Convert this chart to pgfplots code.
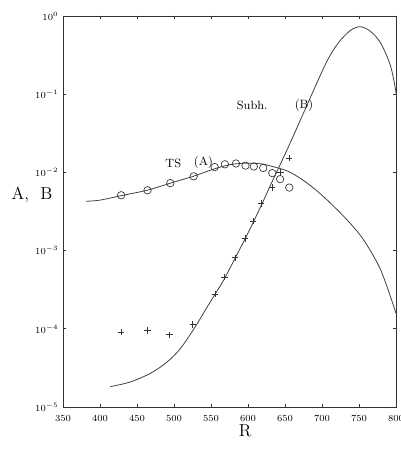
\documentclass[border=0pt]{standalone}
\usepackage{pgfplots}
\pgfplotsset{compat=1.18}
\begin{document}
\begin{tikzpicture}
\begin{axis}[
  scale only axis, width=249.75pt, height=293.25pt,
  xmin=350, xmax=800, ymode=log, ymin=1e-5, ymax=1,
  xtick={350,400,...,800},
  ytick={1e-5,1e-4,1e-3,1e-2,1e-1,1},
  yminorticks=false,
  tick align=inside, major tick length=2.5pt,
  axis line style={black!80, line width=0.7pt},
  every tick/.style={black!80, line width=0.5pt},
  tick label style={font=\scriptsize},
  xticklabel style={yshift=-2.5pt},
  xlabel={R}, ylabel={A,\ \ B},
  label style={font=\fontsize{13}{15}\selectfont},
  xlabel style={at={(axis description cs:0.547,-0.06)}, anchor=center},
  ylabel style={at={(axis description cs:-0.093,0.542)}, anchor=center, rotate=-90},
]
% curve A (TS)
\addplot[smooth, black!75, line width=0.6pt] coordinates {
(381.2,4.27e-3) (400,4.42e-3) (428.6,5.04e-3) (463.8,5.92e-3) (495,7.28e-3)
(526.2,8.93e-3) (554.6,1.11e-2) (576.3,1.26e-2) (596.6,1.31e-2) (617,1.29e-2)
(634.6,1.18e-2) (653.5,1.04e-2) (671.1,8.36e-3) (688.8,6.28e-3) (707.3,4.41e-3)
(734.4,2.44e-3) (756.5,1.36e-3) (779.5,5.60e-4) (800,1.58e-4)};
% curve B (Subh.)
\addplot[smooth, black!75, line width=0.6pt] coordinates {
(414,1.82e-5) (441,2.09e-5) (468,2.69e-5) (490,3.72e-5) (508,5.50e-5)
(527,1.00e-4) (545,1.91e-4) (556,2.82e-4) (567,4.17e-4) (583,8.13e-4)
(596,1.41e-3) (607,2.29e-3) (620,4.17e-3) (633,7.76e-3) (645,1.35e-2)
(660,2.75e-2) (675,5.75e-2) (690,0.120) (705,0.245) (715,0.363)
(725,0.490) (739,0.661) (752,0.730) (766,0.631) (779.5,0.447)
(793,0.224) (801,0.0933)};
% circles (A data)
\addplot[only marks, mark=o, mark size=2.8pt, black!80, mark options={line width=0.5pt}] coordinates {
(428.6,5.1e-3) (464.2,5.9e-3) (495,7.3e-3) (526.6,8.9e-3) (555,1.17e-2)
(568.8,1.27e-2) (583.7,1.30e-2) (596.6,1.22e-2) (607.9,1.19e-2) (620.6,1.14e-2)
(632.8,9.8e-3) (643.4,8.2e-3) (655.8,6.4e-3)};
% pluses (B data)
\addplot[only marks, mark=+, mark size=2.4pt, black!80, mark options={line width=0.5pt}] coordinates {
(428.6,9.1e-5) (464.2,9.5e-5) (494,8.4e-5) (525.3,1.13e-4) (555.3,2.8e-4)
(568.2,4.6e-4) (582.7,8.1e-4) (595.8,1.43e-3) (606.6,2.37e-3) (617.9,4.0e-3)
(632.5,6.4e-3) (644,1.01e-2) (655.5,1.53e-2)};
\node[font=\small] at (axis cs:499,1.32e-2) {TS};
\node[font=\small] at (axis cs:539.7,1.32e-2) {(A)};
\node[font=\small] at (axis cs:605.7,7.2e-2) {Subh.};
\node[font=\small] at (axis cs:675.6,7.2e-2) {(B)};
\end{axis}
\pgfresetboundingbox
\path[use as bounding box] (current axis.south west) ++(-47.25pt,-31.5pt) rectangle ([shift={(3pt,12pt)}]current axis.north east);
\end{tikzpicture}
\end{document}
